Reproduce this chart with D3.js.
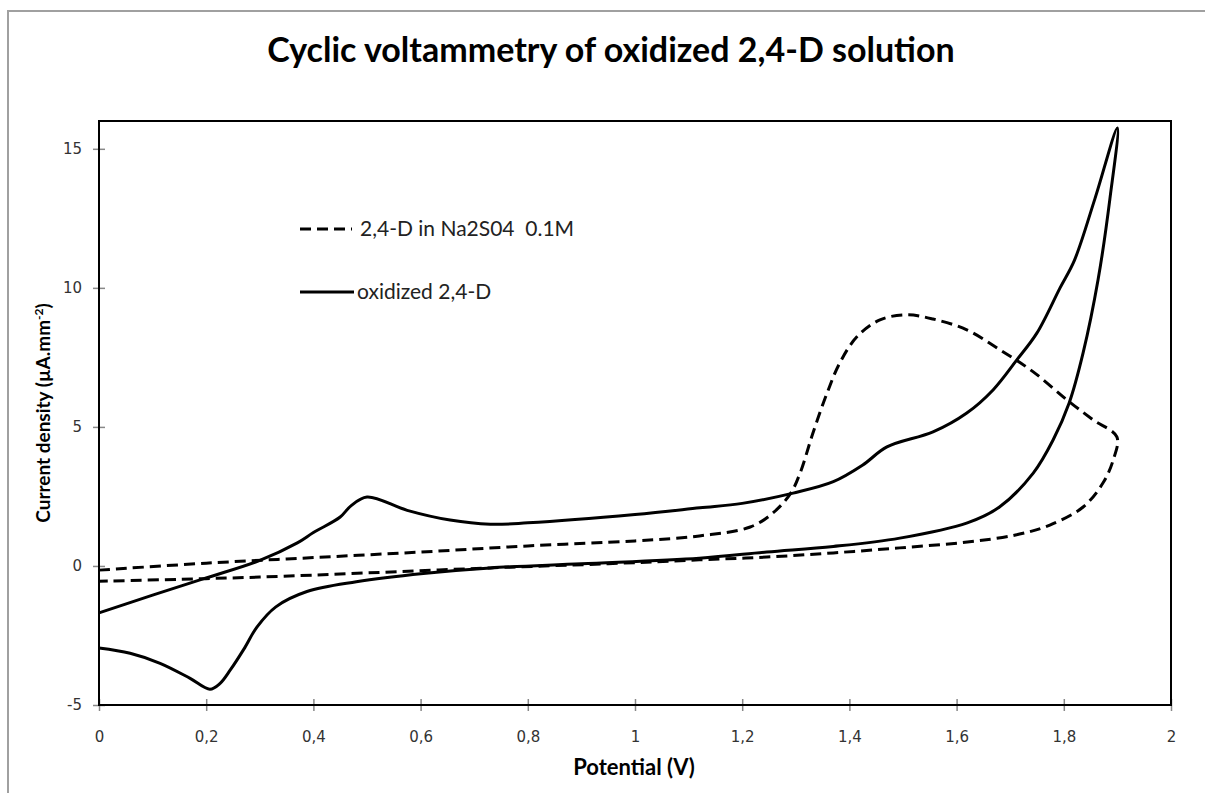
<!DOCTYPE html>
<html>
<head>
<meta charset="utf-8">
<script src="https://cdn.jsdelivr.net/npm/d3@7"></script>
<style>
  body { margin: 0; background: #fff; }
  svg { display: block; }
</style>
</head>
<body>
<div id="chart"></div>
<script>
// Data: potential (V) and current density, forward scan then reverse scan
const naPotential = [0, 0.2, 0.4, 0.6, 0.8, 1.0, 1.12, 1.215, 1.257, 1.29, 1.308, 1.332, 1.358, 1.382, 1.414, 1.457, 1.507, 1.556, 1.619, 1.681, 1.743, 1.806, 1.855, 1.899,
                     1.892, 1.873, 1.836, 1.774, 1.712, 1.62, 1.494, 1.37, 1.246, 1.12, 0.95, 0.73, 0.5, 0.3, 0.15, 0];
const naCurrent   = [-0.15, 0.1, 0.3, 0.5, 0.72, 0.9, 1.08, 1.4, 1.9, 2.6, 3.34, 4.78, 6.2, 7.3, 8.24, 8.85, 9.03, 8.88, 8.49, 7.77, 6.98, 5.97, 5.25, 4.64,
                     3.8, 2.98, 2.12, 1.47, 1.12, 0.86, 0.65, 0.47, 0.32, 0.22, 0.08, -0.07, -0.25, -0.4, -0.48, -0.55];

const oxPotential = [0, 0.1, 0.2, 0.3, 0.37, 0.4, 0.45, 0.47, 0.5, 0.575, 0.655, 0.73, 0.8, 1.0, 1.121, 1.2, 1.295, 1.37, 1.425, 1.47, 1.556, 1.619, 1.668, 1.712, 1.75, 1.793, 1.82, 1.858, 1.9,
                     1.886, 1.864, 1.836, 1.81, 1.78, 1.743, 1.68, 1.62, 1.494, 1.37, 1.246, 1.12, 0.9, 0.73, 0.605, 0.48, 0.388, 0.33, 0.295, 0.27, 0.245, 0.226, 0.207, 0.17, 0.114, 0.058, 0];
const oxCurrent   = [-1.69, -1.05, -0.43, 0.2, 0.83, 1.2, 1.76, 2.16, 2.48, 2.0, 1.65, 1.5, 1.55, 1.85, 2.09, 2.25, 2.62, 3.03, 3.63, 4.28, 4.82, 5.5, 6.33, 7.4, 8.38, 10.0, 11.0, 13.2, 15.75,
                     13.2, 10.3, 7.66, 5.86, 4.53, 3.34, 2.12, 1.55, 1.0, 0.7, 0.5, 0.28, 0.08, -0.07, -0.27, -0.57, -0.92, -1.47, -2.19, -3.0, -3.74, -4.22, -4.43, -4.04, -3.5, -3.14, -2.95];

const xTicks = [0, 0.2, 0.4, 0.6, 0.8, 1, 1.2, 1.4, 1.6, 1.8, 2];
const yTicks = [-5, 0, 5, 10, 15];

const seriesNames = ["2,4-D in Na2S04  0.1M", "oxidized 2,4-D"];

// Layout
const width = 1205, height = 793;
const plot = { left: 99, top: 121, right: 1171, bottom: 705 };

const svg = d3.select("#chart").append("svg")
    .attr("width", width)
    .attr("height", height);

// outer chart frame
svg.append("rect")
    .attr("x", 8).attr("y", 11)
    .attr("width", 1220).attr("height", 820)
    .attr("fill", "none")
    .attr("stroke", "#a0a0a0")
    .attr("stroke-width", 2);

const x = d3.scaleLinear().domain([0, 2]).range([plot.left, plot.right]);
const y = d3.scaleLinear().domain([-5, 16]).range([plot.bottom, plot.top]);

const fmt = d => String(d).replace(".", ",");

// Axes
const xAxis = svg.append("g")
    .attr("transform", `translate(0,${plot.bottom})`)
    .call(d3.axisBottom(x).tickValues(xTicks).tickFormat(fmt).tickSize(6).tickPadding(20));
const yAxis = svg.append("g")
    .attr("transform", `translate(${plot.left},0)`)
    .call(d3.axisLeft(y).tickValues(yTicks).tickFormat(d => String(d)).tickSize(6).tickPadding(11));

[xAxis, yAxis].forEach(g => {
    g.select(".domain").remove();
    g.selectAll("text")
        .style("font-family", "'DejaVu Sans', Verdana, sans-serif")
        .style("font-size", "15px")
        .attr("fill", "#333");
    g.selectAll("line").attr("stroke", "#888").attr("stroke-width", 1.5);
});
xAxis.selectAll(".tick line").attr("y1", -6).attr("y2", 6);
yAxis.selectAll(".tick line").attr("x1", -6).attr("x2", 6);

// Plot border
svg.append("rect")
    .attr("x", plot.left).attr("y", plot.top)
    .attr("width", plot.right - plot.left)
    .attr("height", plot.bottom - plot.top)
    .attr("fill", "none")
    .attr("stroke", "#000")
    .attr("stroke-width", 2);

// Curves
const line = d3.line()
    .x(d => x(d[0]))
    .y(d => y(d[1]))
    .curve(d3.curveCatmullRom.alpha(0.5));

svg.append("path")
    .datum(d3.zip(naPotential, naCurrent))
    .attr("d", line)
    .attr("fill", "none")
    .attr("stroke", "#000")
    .attr("stroke-width", 3)
    .attr("stroke-dasharray", "11,6");

svg.append("path")
    .datum(d3.zip(oxPotential, oxCurrent))
    .attr("d", line)
    .attr("fill", "none")
    .attr("stroke", "#000")
    .attr("stroke-width", 3);

// Legend
const legend = svg.append("g");
legend.append("line")
    .attr("x1", 300).attr("x2", 352).attr("y1", 229).attr("y2", 229)
    .attr("stroke", "#000").attr("stroke-width", 3).attr("stroke-dasharray", "11,6");
legend.append("line")
    .attr("x1", 300).attr("x2", 354).attr("y1", 292).attr("y2", 292)
    .attr("stroke", "#000").attr("stroke-width", 3);
legend.selectAll("text")
    .data(seriesNames)
    .enter().append("text")
    .attr("x", (d, i) => i === 0 ? 360 : 357)
    .attr("y", (d, i) => i === 0 ? 236 : 299)
    .style("font-family", "Lato, 'Open Sans', sans-serif")
    .style("font-size", "21px")
    .attr("fill", "#222")
    .attr("xml:space", "preserve")
    .text(d => d);

// Title
svg.append("text")
    .attr("x", 611).attr("y", 62)
    .attr("text-anchor", "middle")
    .style("font-family", "Lato, 'Open Sans', sans-serif")
    .style("font-weight", "bold")
    .style("font-size", "34px")
    .text("Cyclic voltammetry of oxidized 2,4-D solution");

// Axis titles
svg.append("text")
    .attr("x", 634).attr("y", 775)
    .attr("text-anchor", "middle")
    .style("font-family", "Lato, 'Open Sans', sans-serif")
    .style("font-weight", "bold")
    .style("font-size", "22px")
    .text("Potential (V)");

const yTitle = svg.append("text")
    .attr("transform", `translate(50,${(plot.top + plot.bottom) / 2}) rotate(-90)`)
    .attr("text-anchor", "middle")
    .style("font-family", "Lato, 'Open Sans', sans-serif")
    .style("font-weight", "bold")
    .style("font-size", "19px");
yTitle.append("tspan").text("Current density (µA.mm");
yTitle.append("tspan").attr("dy", -7).style("font-size", "12px").text("-2");
yTitle.append("tspan").attr("dy", 7).text(")");
</script>
</body>
</html>
